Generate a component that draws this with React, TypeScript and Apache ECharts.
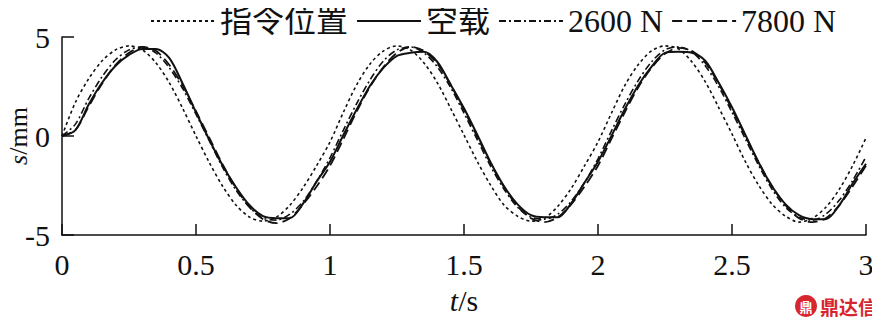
import React, { useEffect, useRef } from "react";
import * as echarts from "echarts";

// time axis (s)
const times: number[] = [
  0, 0.05, 0.1, 0.15, 0.2, 0.25, 0.3, 0.35, 0.4, 0.45,
  0.5, 0.55, 0.6, 0.65, 0.7, 0.75, 0.8, 0.85, 0.9, 0.95,
  1, 1.05, 1.1, 1.15, 1.2, 1.25, 1.3, 1.35, 1.4, 1.45,
  1.5, 1.55, 1.6, 1.65, 1.7, 1.75, 1.8, 1.85, 1.9, 1.95,
  2, 2.05, 2.1, 2.15, 2.2, 2.25, 2.3, 2.35, 2.4, 2.45,
  2.5, 2.55, 2.6, 2.65, 2.7, 2.75, 2.8, 2.85, 2.9, 2.95, 3,
];

// 指令位置 (command position, mm)
const commandPos: number[] = [
  0, 1.7, 2.9, 3.8, 4.35, 4.55, 4.35, 3.7, 2.7, 1.4,
  0.0, -1.35, -2.55, -3.5, -4.1, -4.3, -4.1, -3.5, -2.6, -1.5,
  -0.3, 1.2, 2.6, 3.65, 4.3, 4.55, 4.35, 3.7, 2.7, 1.4,
  0.05, -1.3, -2.5, -3.5, -4.05, -4.3, -4.15, -3.55, -2.65, -1.5,
  -0.3, 1.15, 2.55, 3.6, 4.3, 4.55, 4.4, 3.75, 2.75, 1.45,
  0.1, -1.3, -2.5, -3.45, -4.05, -4.35, -4.15, -3.6, -2.7, -1.5, -0.1,
];

// 空载 (no load)
const noLoad: number[] = [
  0, 0.3, 1.6, 2.7, 3.55, 4.1, 4.4, 4.4, 3.95, 2.65,
  1.2, -0.2, -1.5, -2.6, -3.5, -4.05, -4.15, -4.15, -3.4, -2.3,
  -1.3, 0.05, 1.35, 2.55, 3.45, 4.05, 4.2, 4.25, 3.75, 2.6,
  1.4, 0.05, -1.35, -2.55, -3.45, -4.0, -4.1, -4.1, -3.4, -2.35,
  -1.3, 0.0, 1.35, 2.55, 3.5, 4.2, 4.25, 4.2, 3.8, 2.7,
  1.45, 0.05, -1.35, -2.55, -3.45, -4.0, -4.2, -4.2, -3.5, -2.4, -1.4,
];

// 2600 N
const load2600: number[] = [
  0, 0.6, 1.9, 3.0, 3.85, 4.35, 4.5, 4.2, 3.45, 2.4,
  1.1, -0.25, -1.6, -2.75, -3.6, -4.15, -4.25, -3.95, -3.3, -2.3,
  -1.1, 0.3, 1.65, 2.85, 3.8, 4.35, 4.5, 4.2, 3.5, 2.45,
  1.15, -0.2, -1.55, -2.7, -3.6, -4.1, -4.2, -3.95, -3.3, -2.35,
  -1.15, 0.25, 1.6, 2.8, 3.75, 4.35, 4.5, 4.25, 3.55, 2.5,
  1.2, -0.15, -1.5, -2.7, -3.6, -4.1, -4.25, -3.95, -3.25, -2.25, -1.05,
];

// 7800 N
const load7800: number[] = [
  0, 0.3, 1.5, 2.65, 3.6, 4.2, 4.5, 4.3, 3.6, 2.55,
  1.25, -0.1, -1.45, -2.65, -3.6, -4.2, -4.4, -4.15, -3.45, -2.55,
  -1.5, -0.15, 1.25, 2.5, 3.5, 4.2, 4.5, 4.3, 3.65, 2.6,
  1.3, -0.05, -1.4, -2.6, -3.55, -4.15, -4.35, -4.1, -3.45, -2.55,
  -1.5, -0.15, 1.2, 2.45, 3.45, 4.15, 4.45, 4.3, 3.7, 2.65,
  1.35, 0.0, -1.35, -2.55, -3.5, -4.15, -4.35, -4.15, -3.5, -2.55, -1.5,
];

const seriesNames = ["指令位置", "空载", "2600 N", "7800 N"];
const xTicks = { min: 0, max: 3, interval: 0.5 };
const yTicks = { min: -5, max: 5, interval: 5 };

const FONT = '"Liberation Serif", "Noto Sans CJK SC", serif';

function pairs(vals: number[]) {
  return times.map((t, i) => [t, vals[i]]);
}

export default function App() {
  const ref = useRef<HTMLDivElement>(null);
  useEffect(() => {
    if (!ref.current) return;
    const chart = echarts.init(ref.current, undefined, { renderer: "svg" });
    const lineBase = {
      type: "line" as const,
      showSymbol: false,
      symbol: "none",
      smooth: 0.3,
      animation: false,
    };
    chart.setOption({
      animation: false,
      backgroundColor: "#ffffff",
      textStyle: { fontFamily: FONT, color: "#111" },
      grid: {
        left: 62,
        right: 14,
        top: 37,
        bottom: 95,
        containLabel: false,
        outerBoundsMode: "none",
      },
      legend: {
        top: 0,
        left: 145,
        itemWidth: 64,
        itemHeight: 14,
        itemGap: 8,
        itemStyle: { opacity: 0 },
        textStyle: { fontFamily: FONT, fontSize: 32, color: "#111" },
        data: seriesNames,
      },
      xAxis: {
        type: "value",
        min: xTicks.min,
        max: xTicks.max,
        interval: xTicks.interval,
        name: "{i|t}/s",
        nameLocation: "middle",
        nameGap: 50,
        nameMoveOverlap: false,
        nameTextStyle: {
          fontFamily: FONT,
          fontSize: 30,
          color: "#111",
          rich: { i: { fontStyle: "italic", fontFamily: FONT, fontSize: 30, color: "#111" } },
        },
        axisLine: { show: true, onZero: false, lineStyle: { color: "#111", width: 1.5 } },
        axisTick: { show: true, inside: true, length: 11, lineStyle: { color: "#111", width: 1.5 } },
        axisLabel: { fontFamily: FONT, fontSize: 30, color: "#111", margin: 14 },
        splitLine: { show: false },
      },
      yAxis: {
        type: "value",
        min: yTicks.min,
        max: yTicks.max,
        interval: yTicks.interval,
        name: "{i|s}/mm",
        nameLocation: "middle",
        nameGap: 31,
        nameMoveOverlap: false,
        nameRotate: 90,
        nameTextStyle: {
          fontFamily: FONT,
          fontSize: 26,
          color: "#111",
          rich: { i: { fontStyle: "italic", fontFamily: FONT, fontSize: 26, color: "#111" } },
        },
        axisLine: { show: true, onZero: false, lineStyle: { color: "#111", width: 1.5 } },
        axisTick: { show: true, inside: true, length: 12, lineStyle: { color: "#111", width: 1.5 } },
        axisLabel: {
          fontFamily: FONT,
          fontSize: 30,
          color: "#111",
          margin: 12,
          formatter: (v: number) => (v < 0 ? "-" + Math.abs(v) : String(v)),
        },
        splitLine: { show: false },
      },
      series: [
        {
          ...lineBase,
          name: seriesNames[0],
          data: pairs(commandPos),
          lineStyle: { color: "#111", width: 1.6, type: [3, 3] },
          itemStyle: { color: "#111" },
          z: 2,
        },
        {
          ...lineBase,
          name: seriesNames[1],
          data: pairs(noLoad),
          lineStyle: { color: "#111", width: 2, type: "solid" },
          itemStyle: { color: "#111" },
          z: 3,
        },
        {
          ...lineBase,
          name: seriesNames[2],
          data: pairs(load2600),
          lineStyle: { color: "#111", width: 1.6, type: [7, 3, 2, 3] },
          itemStyle: { color: "#111" },
          z: 4,
        },
        {
          ...lineBase,
          name: seriesNames[3],
          data: pairs(load7800),
          lineStyle: { color: "#111", width: 1.8, type: [10, 5] },
          itemStyle: { color: "#111" },
          z: 5,
        },
      ],
      graphic: [
        {
          type: "circle",
          shape: { cx: 806, cy: 306, r: 11 },
          style: { fill: "#d8262e" },
          silent: true,
        },
        {
          type: "text",
          x: 806,
          y: 306,
          style: {
            text: "鼎",
            fill: "#ffffff",
            fontSize: 13,
            fontWeight: "bold",
            fontFamily: '"Noto Sans CJK SC", sans-serif',
            align: "center",
            verticalAlign: "middle",
          },
          silent: true,
        },
        {
          type: "text",
          x: 820,
          y: 306,
          style: {
            text: "鼎达信",
            fill: "#d8262e",
            fontSize: 19,
            fontWeight: "bold",
            fontFamily: '"Noto Sans CJK SC", sans-serif',
            verticalAlign: "middle",
          },
          silent: true,
        },
      ],
    });
    return () => chart.dispose();
  }, []);
  return <div ref={ref} style={{ width: 880, height: 330, marginLeft: -8, marginTop: -8 }} />;
}
